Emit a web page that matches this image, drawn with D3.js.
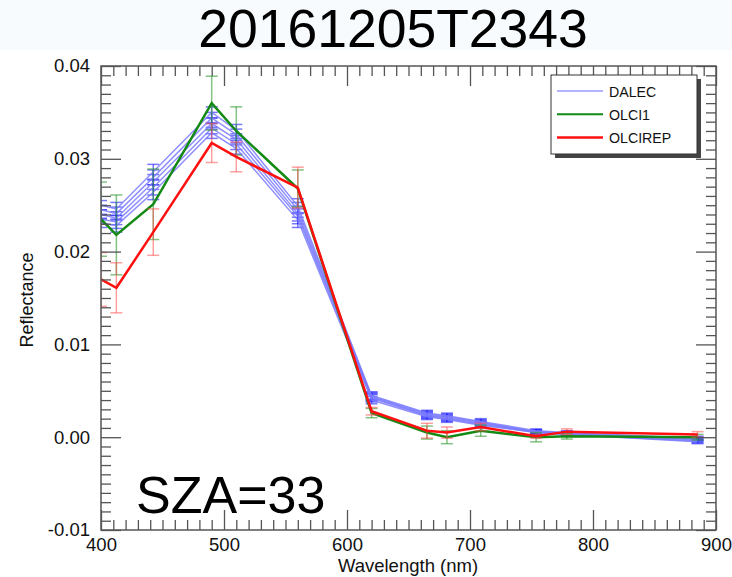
<!DOCTYPE html>
<html>
<head>
<meta charset="utf-8">
<script src="https://cdn.jsdelivr.net/npm/d3@7"></script>
<style>
  html, body { margin: 0; padding: 0; background: #ffffff; }
  svg { display: block; }
  text { font-family: "Liberation Sans", Arial, Helvetica, sans-serif; }
</style>
</head>
<body>
<svg id="chart" width="732" height="577"></svg>
<script>
// Band centres (nm) shared by all spectra
const wavelengths = [400, 412.5, 442.5, 490, 510, 560, 620, 665, 681.25, 708.75, 753.75, 778.75, 885];

// DALEC radiometer spectra (five casts)
const dalecA = [0.0250, 0.0246, 0.0286, 0.0350, 0.0331, 0.0249, 0.0045, 0.0026, 0.0023, 0.0017, 0.0007, 0.0005, -0.0001];
const dalecB = [0.0245, 0.0241, 0.0280, 0.0344, 0.0326, 0.0245, 0.0044, 0.0025, 0.0022, 0.0016, 0.0006, 0.0004, -0.0002];
const dalecC = [0.0240, 0.0236, 0.0275, 0.0338, 0.0321, 0.0241, 0.0043, 0.0024, 0.0021, 0.0015, 0.0006, 0.0004, -0.0003];
const dalecD = [0.0235, 0.0232, 0.0269, 0.0333, 0.0316, 0.0238, 0.0042, 0.0023, 0.0020, 0.0014, 0.0005, 0.0003, -0.0004];
const dalecE = [0.0231, 0.0228, 0.0264, 0.0328, 0.0311, 0.0234, 0.0040, 0.0022, 0.0019, 0.0013, 0.0005, 0.0003, -0.0005];
const dalecErr = [0.0005, 0.0007, 0.0008, 0.0006, 0.0006, 0.0008, 0.0004, 0.0003, 0.0003, 0.0003, 0.0002, 0.0002, 0.0002];

// OLCI standard processing
const olci1 = [0.0235, 0.0218, 0.0251, 0.0360, 0.0330, 0.0268, 0.0026, 0.0005, 0.0000, 0.0007, 0.0000, 0.0001, 0.0000];
const olci1Err = [0.0040, 0.0043, 0.0038, 0.0029, 0.0026, 0.0020, 0.0005, 0.0007, 0.0007, 0.0006, 0.0005, 0.0003, 0.0003];

// OLCI reprocessed
const olcirep = [0.0170, 0.0161, 0.0221, 0.0317, 0.0302, 0.0269, 0.0028, 0.0007, 0.0005, 0.0011, 0.0001, 0.0006, 0.0003];
const olcirepErr = [0.0029, 0.0027, 0.0025, 0.0021, 0.0016, 0.0022, 0.0004, 0.0008, 0.0006, 0.0004, 0.0002, 0.0003, 0.0003];

// Axis ticks
const xTickValues = [400, 500, 600, 700, 800, 900];
const xTickLabels = ["400", "500", "600", "700", "800", "900"];
const yTickValues = [-0.01, 0.00, 0.01, 0.02, 0.03, 0.04];
const yTickLabels = ["-0.01", "0.00", "0.01", "0.02", "0.03", "0.04"];

const legendNames = ["DALEC", "OLCI1", "OLCIREP"];

const svg = d3.select("#chart");
const W = 732, H = 577;
const pL = 101, pR = 716, pT = 66, pB = 530;

// Title band
svg.append("rect").attr("x", 0).attr("y", 0).attr("width", W).attr("height", 50).attr("fill", "#f7fbfd");
svg.append("text")
  .attr("x", 393).attr("y", 47)
  .attr("text-anchor", "middle")
  .attr("font-size", 53.5)
  .attr("fill", "#000")
  .text("20161205T2343");

const x = d3.scaleLinear().domain([400, 900]).range([pL, pR]);
const y = d3.scaleLinear().domain([-0.01, 0.04]).range([pB, pT]);

svg.append("defs").append("clipPath").attr("id", "plotClip")
  .append("rect").attr("x", pL).attr("y", pT).attr("width", pR - pL).attr("height", pB - pT);

const plot = svg.append("g").attr("clip-path", "url(#plotClip)");

function drawErrors(vals, errs, color, opacity, width) {
  const g = plot.append("g").attr("stroke", color).attr("stroke-opacity", opacity).attr("stroke-width", width).attr("fill", "none");
  wavelengths.forEach((w, i) => {
    const cx = x(w), y0 = y(vals[i] - errs[i]), y1 = y(vals[i] + errs[i]);
    g.append("line").attr("x1", cx).attr("x2", cx).attr("y1", y0).attr("y2", y1);
    g.append("line").attr("x1", cx - 6).attr("x2", cx + 6).attr("y1", y0).attr("y2", y0);
    g.append("line").attr("x1", cx - 6).attr("x2", cx + 6).attr("y1", y1).attr("y2", y1);
  });
}

const line = d3.line().x((d, i) => x(wavelengths[i])).y(d => y(d));

function drawLine(vals, color, width, opacity) {
  plot.append("path").datum(vals)
    .attr("d", line)
    .attr("fill", "none")
    .attr("stroke", color)
    .attr("stroke-width", width)
    .attr("stroke-opacity", opacity)
    .attr("stroke-linejoin", "miter");
}

// DALEC
[dalecA, dalecB, dalecC, dalecD, dalecE].forEach(s => drawErrors(s, dalecErr, "#2020ff", 0.6, 1.5));
[dalecA, dalecB, dalecC, dalecD, dalecE].forEach(s => drawLine(s, "#7b7bff", 1.5, 0.85));

// OLCI1
drawErrors(olci1, olci1Err, "#2e9a2e", 0.6, 1.5);
drawLine(olci1, "#138a13", 2.5, 1);

// OLCIREP
drawErrors(olcirep, olcirepErr, "#ff5050", 0.55, 1.5);
drawLine(olcirep, "#ff1010", 2.5, 1);

// Frame and inward ticks on all four sides
const axisColor = "#555";
const xMinor = d3.range(400, 901, 10).filter(v => v % 100 !== 0);
const yMinor = d3.range(-10, 41, 1).filter(v => v % 10 !== 0).map(v => v / 1000);

function styleAxis(g) {
  g.select(".domain").remove();
  g.selectAll("line").attr("stroke", axisColor).attr("stroke-width", 1.3);
}
function styleLabels(g) {
  g.selectAll("text").attr("font-size", 18.5).attr("fill", "#111")
    .attr("font-family", "Liberation Sans, Arial, sans-serif");
}

svg.append("g").attr("transform", `translate(0,${pB})`)
  .call(d3.axisBottom(x).tickValues(xMinor).tickSize(-10).tickFormat(""))
  .call(styleAxis);
svg.append("g").attr("transform", `translate(0,${pB})`)
  .call(d3.axisBottom(x).tickValues(xTickValues).tickSize(-20).tickPadding(8).tickFormat((d, i) => xTickLabels[i]))
  .call(styleAxis)
  .call(styleLabels);
svg.append("g").attr("transform", `translate(0,${pT})`)
  .call(d3.axisTop(x).tickValues(xMinor).tickSize(-10).tickFormat(""))
  .call(styleAxis);
svg.append("g").attr("transform", `translate(0,${pT})`)
  .call(d3.axisTop(x).tickValues(xTickValues).tickSize(-20).tickFormat(""))
  .call(styleAxis);

svg.append("g").attr("transform", `translate(${pL},0)`)
  .call(d3.axisLeft(y).tickValues(yMinor).tickSize(-10).tickFormat(""))
  .call(styleAxis);
svg.append("g").attr("transform", `translate(${pL},0)`)
  .call(d3.axisLeft(y).tickValues(yTickValues).tickSize(-20).tickPadding(11).tickFormat((d, i) => yTickLabels[i]))
  .call(styleAxis)
  .call(styleLabels);
svg.append("g").attr("transform", `translate(${pR},0)`)
  .call(d3.axisRight(y).tickValues(yMinor).tickSize(-10).tickFormat(""))
  .call(styleAxis);
svg.append("g").attr("transform", `translate(${pR},0)`)
  .call(d3.axisRight(y).tickValues(yTickValues).tickSize(-20).tickFormat(""))
  .call(styleAxis);

svg.append("rect")
  .attr("x", pL).attr("y", pT).attr("width", pR - pL).attr("height", pB - pT)
  .attr("fill", "none").attr("stroke", axisColor).attr("stroke-width", 1.5);

// Axis titles
svg.append("text")
  .attr("x", 408).attr("y", 572)
  .attr("text-anchor", "middle").attr("font-size", 18.5).attr("fill", "#111")
  .text("Wavelength (nm)");
svg.append("text")
  .attr("transform", `translate(33,${(pT + pB) / 2 + 2}) rotate(-90)`)
  .attr("text-anchor", "middle").attr("font-size", 18).attr("fill", "#111")
  .text("Reflectance");

// Solar zenith annotation
svg.append("text")
  .attr("x", 136).attr("y", 513)
  .attr("font-size", 52).attr("fill", "#000")
  .text("SZA=33");

// Legend with drop shadow
const lg = svg.append("g");
lg.append("rect").attr("x", 555).attr("y", 79).attr("width", 146).attr("height", 79).attr("fill", "#444");
lg.append("rect").attr("x", 551).attr("y", 75).attr("width", 146).attr("height", 79)
  .attr("fill", "#fff").attr("stroke", "#333").attr("stroke-width", 1);
const legendColors = ["#9a9aff", "#138a13", "#ff1010"];
const legendWidths = [1.5, 2, 2.5];
legendNames.forEach((name, i) => {
  const ly = 91 + i * 23.3;
  lg.append("line").attr("x1", 557).attr("x2", 603).attr("y1", ly).attr("y2", ly)
    .attr("stroke", legendColors[i]).attr("stroke-width", legendWidths[i]);
  lg.append("text").attr("x", 609).attr("y", ly + 5.5)
    .attr("font-size", 14.2).attr("fill", "#111").text(name);
});
</script>
</body>
</html>
